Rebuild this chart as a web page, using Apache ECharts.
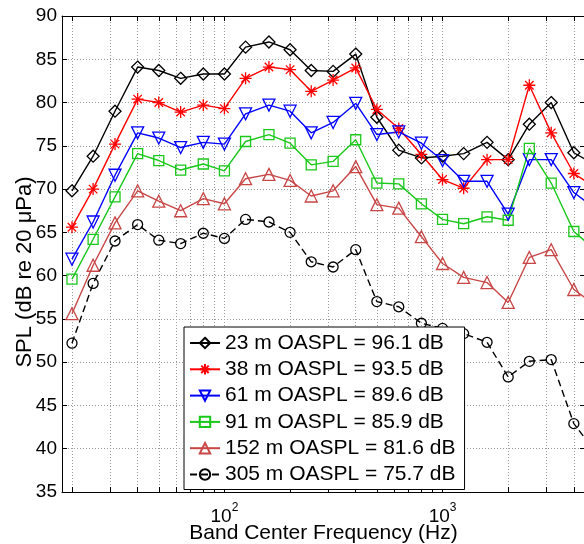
<!DOCTYPE html>
<html>
<head>
<meta charset="utf-8">
<script src="https://cdn.jsdelivr.net/npm/echarts@6/dist/echarts.min.js"></script>
<style>html,body{margin:0;padding:0;background:#fff;}#c{width:584px;height:544px;}</style>
</head>
<body>
<div id="c"></div>
<script>
// Band center frequencies (Hz)
var freqs = [20,25,31.5,40,50,63,80,100,125,160,200,250,315,400,500,630,800,1000,1250,1600,2000,2500,3150,4000,5000];
var spl23  = [69.8,73.8,79.0,84.1,83.7,82.8,83.3,83.3,86.4,87.0,86.1,83.7,83.6,85.6,78.3,74.5,73.6,73.8,74.1,75.4,73.4,77.5,80.0,74.2,72.8];
var spl38  = [65.6,70.0,75.2,80.4,80.0,78.9,79.7,79.3,82.8,84.1,83.8,81.3,82.6,84.0,79.2,77.0,74.0,71.1,70.1,73.4,73.4,82.0,76.5,71.8,70.2];
var spl61  = [61.9,66.2,71.6,76.5,75.9,74.8,75.4,75.2,78.7,79.7,79.0,76.5,77.7,79.9,76.3,76.6,75.3,73.3,70.9,70.9,67.1,73.4,73.4,69.6,67.8];
var spl91  = [59.6,64.2,69.1,74.1,73.3,72.2,72.9,72.1,75.5,76.3,75.3,72.8,73.2,75.7,70.7,70.6,68.3,66.5,66.0,66.8,66.4,74.7,70.7,65.1,63.0];
var spl152 = [55.6,61.2,66.1,69.8,68.6,67.5,68.9,68.3,71.2,71.7,71.0,69.2,69.8,72.6,68.2,67.8,64.5,61.4,59.8,59.2,56.9,62.1,63.0,58.4,56.6];
var spl305 = [52.2,59.1,64.0,65.9,64.1,63.7,64.9,64.3,66.5,66.2,65.0,61.6,61.0,63.0,57.0,56.4,54.5,53.9,53.3,52.3,48.3,50.1,50.3,42.9,39.7];
var seriesNames = ['23 m OASPL = 96.1 dB','38 m OASPL = 93.5 dB','61 m OASPL = 89.6 dB','91 m OASPL = 85.9 dB','152 m OASPL = 81.6 dB','305 m OASPL = 75.7 dB'];
var xTickValues = [20,30,40,50,60,70,80,90,100,200,300,400,500,600,700,800,900,1000,2000,3000,4000];
var xLabelValues = [100,1000];
var yMin = 35, yMax = 90, yStep = 5;
var xTitle = 'Band Center Frequency (Hz)';
var yTitle = 'SPL (dB re 20 \u03bcPa)';

var FONT = "'Liberation Sans', Arial, Helvetica, sans-serif";
var ASTER = 'path://M5,0L5,10M0,5L10,5M1.46,1.46L8.54,8.54M8.54,1.46L1.46,8.54';

function pairs(vals){ return freqs.map(function(f,i){ return [f, vals[i]]; }); }
function mk(name, vals, color, symbol, rotate, dashed, size){
  return {
    name: name, type: 'line', data: pairs(vals), color: color,
    symbol: symbol, symbolSize: size || 11, symbolRotate: rotate || 0,
    lineStyle: {color: color, width: 1.4, type: dashed ? [7,4] : 'solid'},
    itemStyle: {color: 'rgba(255,255,255,0)', borderColor: color, borderWidth: 1.3},
    emphasis: {disabled: true}, animation: false, clip: true, z: 3
  };
}

var chart = echarts.init(document.getElementById('c'), null, {renderer: 'canvas'});
var xCommon = {type: 'log', logBase: 10, min: 18, max: 4500, gridIndex: 0};
chart.setOption({
  animation: false,
  backgroundColor: '#fff',
  textStyle: {fontFamily: FONT},
  grid: {left: 62, top: 16, width: 523, height: 476, containLabel: false, outerBoundsMode: 'none'},
  graphic: [{
    type: 'text', x: 25, y: 272, rotation: Math.PI / 2, silent: true,
    style: {text: yTitle, fontSize: 22, fontFamily: FONT, fill: '#000', align: 'center', verticalAlign: 'middle'}
  }],
  xAxis: [
    Object.assign({}, xCommon, {
      position: 'bottom',
      name: xTitle, nameLocation: 'middle', nameGap: 31, nameMoveOverlap: false,
      nameTextStyle: {fontSize: 21, color: '#000', fontFamily: FONT},
      axisLine: {show: true, lineStyle: {color: '#000', width: 1}},
      axisTick: {show: true, inside: true, length: 5, customValues: xTickValues, lineStyle: {color: '#000'}},
      axisLabel: {show: true, customValues: xLabelValues, margin: 3, color: '#000',
        verticalAlign: 'top', padding: [7, 0, 0, 0],
        formatter: function(v){ return '{b|10}{s|' + Math.round(Math.log(v)/Math.LN10) + '}'; },
        rich: {b: {fontSize: 19, lineHeight: 24, fontFamily: FONT, color: '#000', verticalAlign: 'bottom'},
               s: {fontSize: 12, lineHeight: 12, fontFamily: FONT, color: '#000', verticalAlign: 'top'}}},
      splitLine: {show: true, lineStyle: {color: '#9a9a9a', width: 1, type: [1,2]}}
    }),
    Object.assign({}, xCommon, {
      position: 'top',
      axisLine: {show: true, lineStyle: {color: '#000', width: 1}},
      axisTick: {show: true, inside: true, length: 5, customValues: xTickValues, lineStyle: {color: '#000'}},
      axisLabel: {show: false},
      splitLine: {show: false}
    })
  ],
  yAxis: [
    {
      type: 'value', min: yMin, max: yMax, interval: yStep, position: 'left',
      axisLine: {show: true, lineStyle: {color: '#000', width: 1}},
      axisTick: {show: true, inside: true, length: 5, lineStyle: {color: '#000'}},
      axisLabel: {fontSize: 19, color: '#000', margin: 5, fontFamily: FONT},
      splitLine: {show: true, lineStyle: {color: '#9a9a9a', width: 1, type: [1,2]}}
    },
    {
      type: 'value', min: yMin, max: yMax, interval: yStep, position: 'right',
      axisLine: {show: true, lineStyle: {color: '#000', width: 1}},
      axisTick: {show: true, inside: true, length: 5, lineStyle: {color: '#000'}},
      axisLabel: {show: false},
      splitLine: {show: false}
    }
  ],
  legend: {
    orient: 'vertical', left: 184, top: 327,
    padding: [5, 9, 4, 5], itemGap: 4.3, itemWidth: 30, itemHeight: 13,
    backgroundColor: '#fff', borderColor: '#000', borderWidth: 1, borderRadius: 0,
    textStyle: {fontSize: 21, lineHeight: 22, color: '#000', fontFamily: FONT},
    selectedMode: false,
    data: seriesNames
  },
  series: [
    mk(seriesNames[0], spl23, '#000000', 'diamond', 0, false, 12),
    mk(seriesNames[1], spl38, '#ff0000', ASTER, 0, false, 12),
    mk(seriesNames[2], spl61, '#0000ff', 'triangle', 180, false, 12),
    mk(seriesNames[3], spl91, '#19c819', 'rect', 0, false, 10),
    mk(seriesNames[4], spl152, '#c84646', 'triangle', 0, false, 12),
    mk(seriesNames[5], spl305, '#000000', 'circle', 0, true, 10)
  ]
});
</script>
</body>
</html>
